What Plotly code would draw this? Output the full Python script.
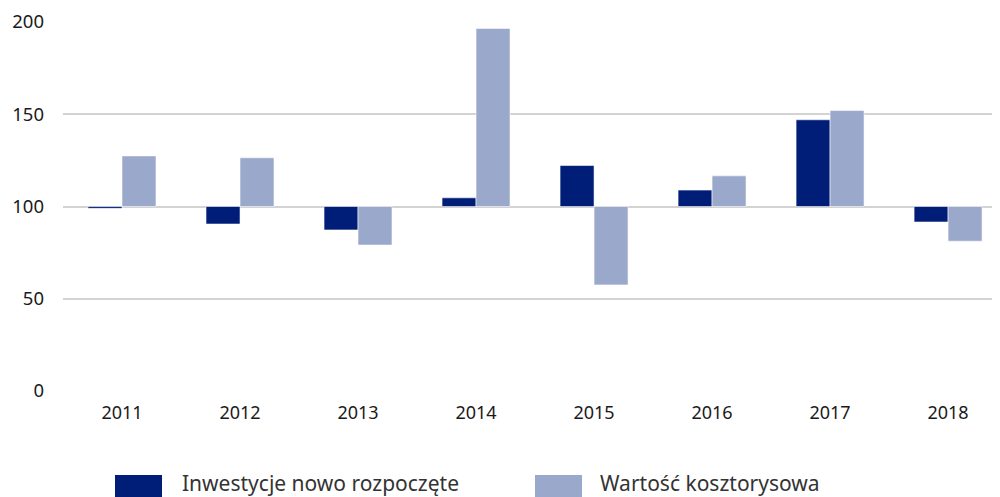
import plotly.graph_objects as go

years = ["2011", "2012", "2013", "2014", "2015", "2016", "2017", "2018"]
inwestycje = [99.0, 90.5, 87.3, 104.7, 122.2, 108.9, 147.0, 91.6]
wartosc = [127.4, 126.4, 79.1, 196.5, 57.5, 116.6, 152.0, 81.2]
series_names = ["Inwestycje nowo rozpoczęte", "Wartość kosztorysowa"]
colors = ["#001E78", "#9AA8CB"]
base_value = 100
y_ticks = [0, 50, 100, 150, 200]

FONT = "Noto Sans"

fig = go.Figure()
for name, vals, col in zip(series_names, [inwestycje, wartosc], colors):
    fig.add_trace(go.Bar(
        x=years,
        y=[v - base_value for v in vals],
        base=base_value,
        name=name,
        marker=dict(color=col, line=dict(color="rgba(255,255,255,0.55)", width=1)),
        customdata=vals,
        hovertemplate="%{x}: %{customdata}<extra>" + name + "</extra>",
        showlegend=False,
    ))

# page body has an 8px default margin; figure coordinates are window coords - 8
OFF = 8
W, H = 1000 - OFF, 497 - OFF
ml, mt = 63 - OFF, 22 - OFF
plot_bottom = 391 - OFF
mr = 0
mb = H - plot_bottom
pw = W - ml - mr
ph = plot_bottom - mt

fig.update_layout(
    width=W, height=H,
    margin=dict(l=ml, r=mr, t=mt, b=mb, pad=0),
    paper_bgcolor="white", plot_bgcolor="white",
    barmode="group", bargap=0.424, bargroupgap=0,
    font=dict(family=FONT, size=17, color="#1a1a1a"),
    xaxis=dict(
        type="category",
        range=[-0.5, 7.44],
        showgrid=False, zeroline=False, showline=False,
        ticks="", tickfont=dict(size=18, color="#1a1a1a"),
        ticklabelstandoff=9,
    ),
    yaxis=dict(
        range=[0, 200],
        tickvals=y_ticks,
        showgrid=True, gridcolor="#D3D3D3", gridwidth=2,
        zeroline=False, showline=False,
        ticks="", tickfont=dict(size=18.5, color="#1a1a1a"),
        ticklabelstandoff=18,
    ),
)

# legend (custom, large swatches as in the reference); positions given in window px
def px_x(p):
    return (p - OFF - ml) / pw

def px_y(p):
    return (plot_bottom - (p - OFF)) / ph

legend_items = [(115, 162, 180), (535, 582, 598)]
for (x0, x1, tx), name, col in zip(legend_items, series_names, colors):
    fig.add_shape(type="rect", xref="paper", yref="paper",
                  x0=px_x(x0), x1=px_x(x1), y0=px_y(475), y1=px_y(505),
                  fillcolor=col, line=dict(width=0), layer="above")
    fig.add_annotation(xref="paper", yref="paper", x=px_x(tx), y=px_y(483),
                       xanchor="left", yanchor="middle", showarrow=False,
                       text=name, font=dict(family=FONT, size=21, color="#333333"))

fig.write_html("out.html")
